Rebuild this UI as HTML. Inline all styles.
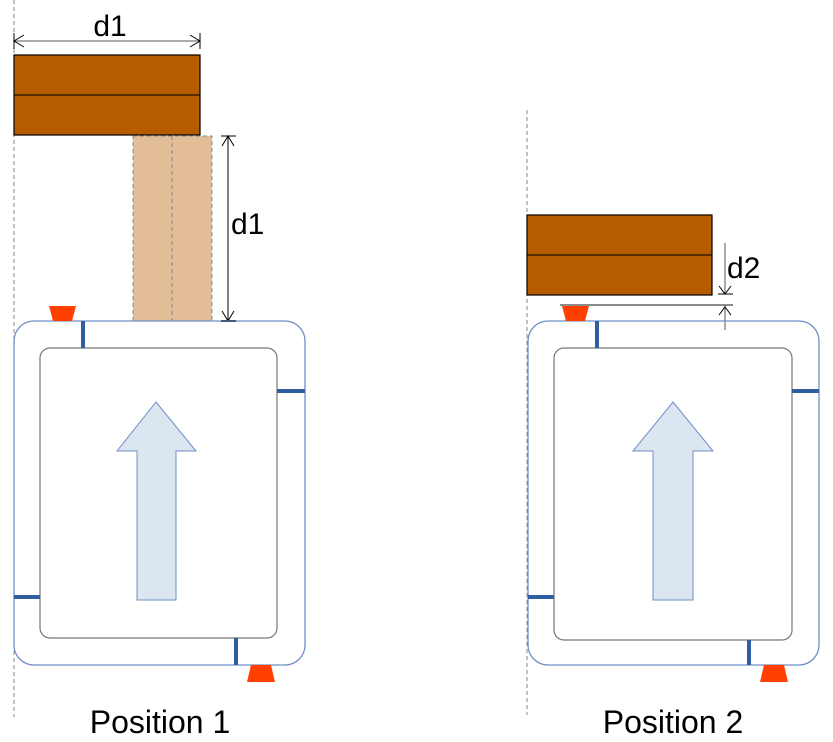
<!DOCTYPE html>
<html><head><meta charset="utf-8"><style>html,body{margin:0;padding:0;background:#fff}svg{display:block}</style></head>
<body>
<svg width="833" height="742" viewBox="0 0 833 742" xmlns="http://www.w3.org/2000/svg" font-family="Liberation Sans, sans-serif">
<!-- Position 1 -->
<line x1="14" y1="0" x2="14" y2="717" stroke="#888" stroke-width="1" stroke-dasharray="4,3"/>
<line x1="14" y1="41" x2="200" y2="41" stroke="#555" stroke-width="1"/>
<line x1="14" y1="33" x2="14" y2="49" stroke="#000"/>
<line x1="200" y1="33" x2="200" y2="49" stroke="#000"/>
<polyline points="24,35 14,41 24,47" fill="none" stroke="#000"/>
<polyline points="190,35 200,41 190,47" fill="none" stroke="#000"/>
<text x="110" y="36" font-size="30" text-anchor="middle">d1</text>
<rect x="14" y="55" width="186" height="80" fill="#b65c00" stroke="#000" stroke-width="1.2"/>
<line x1="14" y1="95" x2="200" y2="95" stroke="#000" stroke-width="1"/>
<rect x="133" y="136" width="79" height="185" fill="#e3bd98" stroke="#888" stroke-dasharray="4,3"/>
<line x1="172" y1="136" x2="172" y2="321" stroke="#888" stroke-dasharray="4,3"/>
<line x1="228" y1="136" x2="228" y2="321" stroke="#000"/>
<line x1="221" y1="136" x2="236" y2="136" stroke="#000"/>
<line x1="221" y1="321" x2="236" y2="321" stroke="#000" stroke-width="2"/>
<polyline points="222,146 228,136 234,146" fill="none" stroke="#000"/>
<polyline points="222,311 228,321 234,311" fill="none" stroke="#000"/>
<text x="231" y="234" font-size="30">d1</text>

<g id="unit1">
<rect x="14" y="321" width="291" height="344" rx="20" fill="none" stroke="#6f8fc7" stroke-width="1.3"/>
<rect x="40" y="348" width="237" height="290" rx="10" fill="#fff" stroke="#777" stroke-width="1.2"/>
<line x1="83" y1="321" x2="83" y2="348" stroke="#2f5fa0" stroke-width="4"/>
<line x1="277" y1="391" x2="305" y2="391" stroke="#2f5fa0" stroke-width="4"/>
<line x1="14" y1="597" x2="40" y2="597" stroke="#2f5fa0" stroke-width="4"/>
<line x1="236" y1="638" x2="236" y2="665" stroke="#2f5fa0" stroke-width="4"/>
<polygon points="49,306 76,306 72,321 53,321" fill="#ff4000"/>
<polygon points="251,665 271,665 275,682 247,682" fill="#ff4000"/>
<polygon points="156,402 196,451 176,451 176,600 137,600 137,451 117,451" fill="#dce6f1" stroke="#6f8fc7" stroke-width="1"/>
</g>
<text x="160" y="733" font-size="32" text-anchor="middle">Position 1</text>

<!-- Position 2 -->
<line x1="527" y1="110" x2="527" y2="715" stroke="#888" stroke-width="1" stroke-dasharray="4,3"/>
<rect x="527" y="215" width="185" height="80" fill="#b65c00" stroke="#000" stroke-width="1.2"/>
<line x1="527" y1="255" x2="712" y2="255" stroke="#000" stroke-width="1"/>
<line x1="560" y1="305" x2="733" y2="305" stroke="#666" stroke-width="1.5"/>
<line x1="725" y1="243" x2="725" y2="294" stroke="#555"/>
<line x1="725" y1="305" x2="725" y2="330" stroke="#555"/>
<line x1="718" y1="294" x2="733" y2="294" stroke="#000"/>
<polyline points="719,286 725,294 731,286" fill="none" stroke="#000"/>
<polyline points="719,315 725,307 731,315" fill="none" stroke="#000"/>
<text x="727" y="278" font-size="30">d2</text>
<g transform="translate(514,0)">
<rect x="14" y="321" width="291" height="344" rx="20" fill="none" stroke="#6f8fc7" stroke-width="1.3"/>
<rect x="40" y="348" width="238" height="292" rx="10" fill="#fff" stroke="#777" stroke-width="1.2"/>
<line x1="83" y1="321" x2="83" y2="348" stroke="#2f5fa0" stroke-width="4"/>
<line x1="278" y1="391" x2="305" y2="391" stroke="#2f5fa0" stroke-width="4"/>
<line x1="14" y1="597" x2="40" y2="597" stroke="#2f5fa0" stroke-width="4"/>
<line x1="235" y1="640" x2="235" y2="665" stroke="#2f5fa0" stroke-width="4"/>
<polygon points="48,306 75,306 71,321 52,321" fill="#ff4000"/>
<polygon points="250,665 270,665 274,682 246,682" fill="#ff4000"/>
<polygon points="159,402 199,451 179,451 179,600 139,600 139,451 119,451" fill="#dce6f1" stroke="#6f8fc7" stroke-width="1"/>
</g>
<text x="673" y="733" font-size="32" text-anchor="middle">Position 2</text>
</svg>
</body></html>
